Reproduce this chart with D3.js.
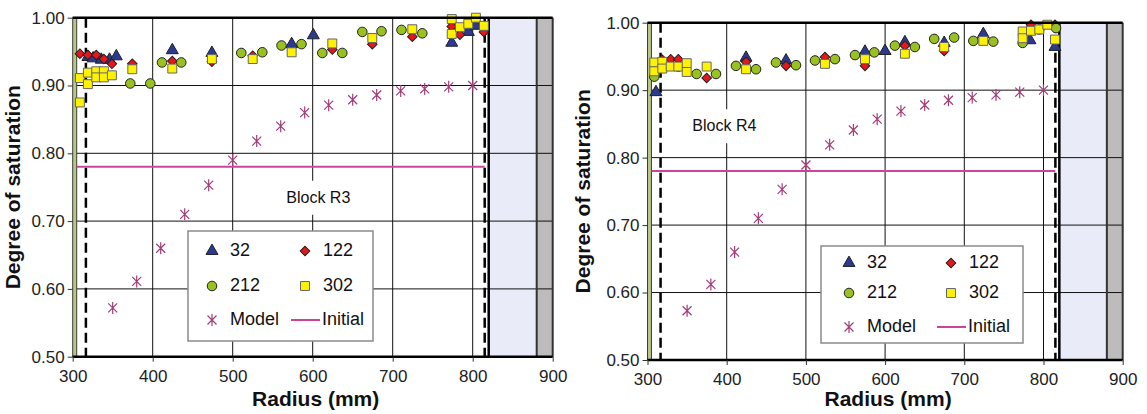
<!DOCTYPE html>
<html>
<head>
<meta charset="utf-8">
<script src="https://cdn.jsdelivr.net/npm/d3@7"></script>
<style>
  body { margin: 0; background: #fff; }
  svg { font-family: "Liberation Sans", Arial, sans-serif; }
</style>
</head>
<body>
<svg id="chart" width="1147" height="414"></svg>
<script>
// Model curve (same radii in both blocks)
const modelRadius = [350, 380, 410, 440, 470, 500, 530, 560, 590, 620, 650, 680, 710, 740, 770, 800];
const modelR3 = [0.572, 0.611, 0.660, 0.710, 0.753, 0.790, 0.818, 0.840, 0.860, 0.871, 0.879, 0.886, 0.892, 0.895, 0.898, 0.900];
const modelR4 = [0.573, 0.612, 0.660, 0.710, 0.753, 0.789, 0.819, 0.841, 0.857, 0.869, 0.878, 0.885, 0.889, 0.893, 0.897, 0.900];
const initialValue = 0.78;

// Block R3 measurements: [radius, degree of saturation]
const r3_32 = [[319, 0.942], [325.5, 0.940], [335.7, 0.938], [346, 0.938], [354.5, 0.943], [424.5, 0.952], [474, 0.948], [573.7, 0.961], [600.8, 0.974], [773.8, 0.963], [794.5, 0.979], [804, 0.988]];
const r3_122 = [[309, 0.947], [319, 0.945], [329.5, 0.945], [339, 0.939], [349, 0.932], [374.5, 0.932], [424.5, 0.936], [474, 0.935], [525, 0.944], [624.5, 0.953], [674.5, 0.961], [724.5, 0.972], [773.8, 0.987], [784, 0.975], [814, 0.979]];
const r3_212 = [[372, 0.903], [397, 0.903], [411.6, 0.934], [435.7, 0.934], [510.7, 0.948], [537, 0.949], [561, 0.959], [586, 0.961], [612, 0.948], [637, 0.948], [662, 0.979], [686, 0.980], [711, 0.982], [737, 0.977]];
const r3_302 = [[309, 0.911], [309, 0.875], [319, 0.919], [319, 0.902], [329.5, 0.921], [329.5, 0.912], [339, 0.921], [339, 0.912], [349, 0.915], [374.5, 0.924], [424.5, 0.925], [474, 0.939], [525, 0.939], [573.7, 0.949], [624.5, 0.962], [674.5, 0.970], [724.5, 0.983], [773.8, 0.998], [773.8, 0.976], [784, 0.986], [794.5, 0.991], [804, 1.000], [814, 0.988]];

// Block R4 measurements
const r4_32 = [[310.7, 0.897], [318.7, 0.936], [424.4, 0.948], [474.9, 0.944], [574.6, 0.957], [599.9, 0.958], [625, 0.971], [674.6, 0.970], [724, 0.983], [782.9, 0.974], [814.5, 0.964]];
const r4_122 = [[318.7, 0.945], [329.3, 0.946], [338.9, 0.946], [374.7, 0.918], [424.4, 0.942], [474.9, 0.936], [524.1, 0.949], [574.6, 0.936], [625, 0.966], [674.6, 0.958], [784.2, 0.997], [814.5, 0.997]];
const r4_212 = [[308.6, 0.920], [338.9, 0.935], [362, 0.924], [386.5, 0.924], [411.7, 0.936], [437, 0.931], [462.2, 0.941], [487.5, 0.937], [511.5, 0.944], [536.7, 0.946], [562, 0.952], [586.4, 0.956], [612.4, 0.966], [637.6, 0.964], [662, 0.976], [687.2, 0.978], [711.4, 0.973], [736.6, 0.972], [773.7, 0.970], [794.7, 0.990], [815.8, 0.992]];
const r4_302 = [[308.6, 0.941], [308.6, 0.928], [318.7, 0.942], [318.7, 0.932], [329.3, 0.935], [338.9, 0.935], [349.5, 0.940], [349.5, 0.927], [374.7, 0.935], [424.4, 0.931], [524.1, 0.939], [574.6, 0.946], [625, 0.954], [674.6, 0.964], [724, 0.973], [773.7, 0.987], [773.7, 0.977], [784.2, 0.988], [794.7, 0.990], [804.8, 0.997], [814.5, 0.975]];

const xTicks = [300, 400, 500, 600, 700, 800, 900];
const yTicks = [0.5, 0.6, 0.7, 0.8, 0.9, 1.0];
const seriesNames = ["32", "122", "212", "302"];

const svg = d3.select("#chart");

const asterisk = "M-4.5,-4.5L4.5,4.5M-4.5,4.5L4.5,-4.5M0,-6L0,6";
const markers = {
  "32": {shape: d3.symbol(d3.symbolTriangle, 62)(), fill: "#2b3990", rot: 0},
  "122": {shape: d3.symbol(d3.symbolSquare, 46)(), fill: "#e8151b", rot: 45},
  "212": {shape: d3.symbol(d3.symbolCircle, 72)(), fill: "#99c221", rot: 0},
  "302": {shape: d3.symbol(d3.symbolSquare, 80)(), fill: "#fff200", rot: 0}
};

const drawMarker = (g, name, x, y) => {
  const m = markers[name];
  g.append("path")
    .attr("d", m.shape)
    .attr("transform", `translate(${x},${y}) rotate(${m.rot})`)
    .attr("fill", m.fill)
    .attr("stroke", name === "302" ? "#666" : "#222")
    .attr("stroke-width", 1);
};

const drawPanel = (cfg) => {
  const x = d3.scaleLinear().domain([300, 900]).range([0, cfg.w]);
  const y = d3.scaleLinear().domain([0.5, 1.0]).range([cfg.h, 0]);
  const g = svg.append("g").attr("transform", `translate(${cfg.left},${cfg.top})`);

  // shaded zones
  g.append("rect")
    .attr("x", x(820)).attr("y", 0)
    .attr("width", x(880) - x(820)).attr("height", cfg.h)
    .attr("fill", "#e9ecf8");
  g.append("rect")
    .attr("x", x(880)).attr("y", 0)
    .attr("width", x(900) - x(880)).attr("height", cfg.h)
    .attr("fill", "#bdbbbb");

  // grid
  g.append("g")
    .attr("stroke", "#111")
    .attr("stroke-width", 1)
    .selectAll("line.h")
    .data(yTicks.slice(1, -1))
    .join("line")
      .attr("x1", 0).attr("x2", cfg.w)
      .attr("y1", d => y(d)).attr("y2", d => y(d));
  g.append("g")
    .attr("stroke", "#111")
    .attr("stroke-width", 1)
    .selectAll("line.v")
    .data([400, 500, 600, 700, 800])
    .join("line")
      .attr("x1", d => x(d)).attr("x2", d => x(d))
      .attr("y1", 0).attr("y2", cfg.h);

  // zone borders
  g.append("rect")
    .attr("x", x(300)).attr("y", 0)
    .attr("width", x(305) - x(300)).attr("height", cfg.h)
    .attr("fill", "#b8c48c")
    .attr("stroke", "#3c4030")
    .attr("stroke-width", 1);
  [[820, 2.5], [880, 2], [900, 2]].forEach(([r, sw]) => {
    g.append("line")
      .attr("x1", x(r)).attr("x2", x(r))
      .attr("y1", 0).attr("y2", cfg.h)
      .attr("stroke", r === 820 ? "#000" : "#333")
      .attr("stroke-width", sw);
  });
  [316.5, 815].forEach(r => {
    g.append("line")
      .attr("x1", x(r)).attr("x2", x(r))
      .attr("y1", 0).attr("y2", cfg.h)
      .attr("stroke", "#000")
      .attr("stroke-width", 2.5)
      .attr("stroke-dasharray", "10 5");
  });

  // block label with white backing
  const lbl = g.append("g").attr("transform", `translate(${x(cfg.labelR)},${y(cfg.labelV)})`);
  lbl.append("rect")
    .attr("x", -44).attr("y", -18)
    .attr("width", 88).attr("height", 34)
    .attr("fill", "#fff");
  lbl.append("text")
    .attr("text-anchor", "middle")
    .attr("dominant-baseline", "middle")
    .attr("font-size", 16)
    .attr("fill", "#111")
    .text(cfg.label);

  // initial line
  g.append("line")
    .attr("x1", x(305)).attr("x2", x(815))
    .attr("y1", y(initialValue)).attr("y2", y(initialValue))
    .attr("stroke", "#cc4499")
    .attr("stroke-width", 2);

  // model
  g.append("g")
    .selectAll("path")
    .data(modelRadius.map((r, i) => [r, cfg.model[i]]))
    .join("path")
      .attr("d", asterisk)
      .attr("transform", d => `translate(${x(d[0])},${y(d[1])})`)
      .attr("stroke", "#a23d77")
      .attr("stroke-width", 1.2)
      .attr("fill", "none");

  // measurements
  const pts = g.append("g");
  seriesNames.forEach((name, i) => {
    cfg.series[i].forEach(d => drawMarker(pts, name, x(d[0]), y(d[1])));
  });

  // frame: top and bottom heavy lines
  g.append("line")
    .attr("x1", 0).attr("x2", cfg.w).attr("y1", 0).attr("y2", 0)
    .attr("stroke", "#000").attr("stroke-width", 2.5);
  g.append("line")
    .attr("x1", 0).attr("x2", cfg.w).attr("y1", cfg.h).attr("y2", cfg.h)
    .attr("stroke", "#000").attr("stroke-width", 2.5);

  // axes
  const xAxis = g.append("g")
    .attr("transform", `translate(0,${cfg.h})`)
    .call(d3.axisBottom(x).tickValues(xTicks).tickSize(5).tickPadding(8));
  xAxis.select(".domain").remove();
  const yAxis = g.append("g")
    .call(d3.axisLeft(y).tickValues(yTicks).tickFormat(d3.format(".2f")).tickSize(5).tickPadding(3));
  yAxis.select(".domain").remove();
  g.selectAll(".tick line").attr("stroke", "#333");
  g.selectAll(".tick text")
    .attr("font-size", 17)
    .attr("font-family", "Liberation Sans, Arial, sans-serif")
    .attr("fill", "#222");

  g.append("text")
    .attr("x", cfg.w / 2 + 3).attr("y", 406 - cfg.top)
    .attr("text-anchor", "middle")
    .attr("font-size", 21).attr("font-weight", "bold")
    .attr("fill", "#111")
    .text("Radius (mm)");
  g.append("text")
    .attr("transform", `translate(${-cfg.left + cfg.titleX},${cfg.h / 2}) rotate(-90)`)
    .attr("text-anchor", "middle")
    .attr("font-size", 21).attr("font-weight", "bold")
    .attr("fill", "#111")
    .text("Degree of saturation");

  // legend
  const lg = svg.append("g").attr("transform", `translate(${cfg.legend.x},${cfg.legend.y})`);
  lg.append("rect")
    .attr("width", cfg.legend.w).attr("height", cfg.legend.h)
    .attr("fill", "#fff").attr("stroke", "#8a8a8a").attr("stroke-width", 1.5);
  const rows = cfg.legend.rows;
  const cols = cfg.legend.cols;
  const items = [
    {name: "32", col: 0, row: 0}, {name: "122", col: 1, row: 0},
    {name: "212", col: 0, row: 1}, {name: "302", col: 1, row: 1}
  ];
  items.forEach(it => {
    drawMarker(lg, it.name, cols[it.col], rows[it.row]);
    lg.append("text")
      .attr("x", cols[it.col] + 18).attr("y", rows[it.row])
      .attr("dominant-baseline", "middle")
      .attr("font-size", 18).attr("fill", "#111")
      .text(it.name);
  });
  lg.append("path")
    .attr("d", asterisk)
    .attr("transform", `translate(${cols[0]},${rows[2]})`)
    .attr("stroke", "#a23d77").attr("stroke-width", 1.2).attr("fill", "none");
  lg.append("text")
    .attr("x", cols[0] + 18).attr("y", rows[2])
    .attr("dominant-baseline", "middle")
    .attr("font-size", 18).attr("fill", "#111")
    .text("Model");
  lg.append("line")
    .attr("x1", cols[1] - 14).attr("x2", cols[1] + 15)
    .attr("y1", rows[2]).attr("y2", rows[2])
    .attr("stroke", "#cc4499").attr("stroke-width", 2);
  lg.append("text")
    .attr("x", cols[1] + 17).attr("y", rows[2])
    .attr("dominant-baseline", "middle")
    .attr("font-size", 18).attr("fill", "#111")
    .text("Initial");
};

drawPanel({
  left: 72.7, top: 17.7, w: 480, h: 339, titleX: 20,
  label: "Block R3", labelR: 607, labelV: 0.733,
  model: modelR3, series: [r3_32, r3_122, r3_212, r3_302],
  legend: {x: 188, y: 231, w: 185, h: 110, rows: [20, 55, 89], cols: [24, 117]}
});

drawPanel({
  left: 647.5, top: 22.7, w: 475.2, h: 337.3, titleX: 590,
  label: "Block R4", labelR: 397, labelV: 0.845,
  model: modelR4, series: [r4_32, r4_122, r4_212, r4_302],
  legend: {x: 821, y: 246, w: 202, h: 97, rows: [17, 47, 81], cols: [28, 130]}
});
</script>
</body>
</html>
